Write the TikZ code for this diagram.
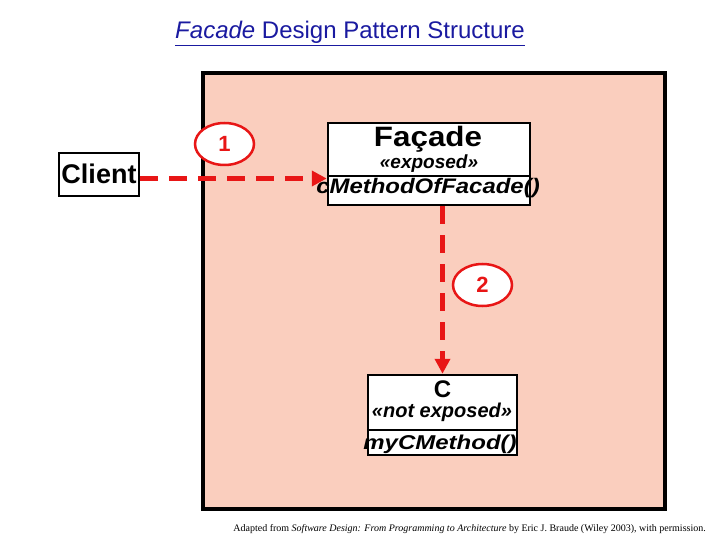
\documentclass[tikz,border=0pt]{standalone}
\usepackage{fontspec}
\setmainfont{Liberation Sans}
\newfontfamily\seriffont{Liberation Serif}
\usetikzlibrary{arrows.meta,shapes.geometric}
\definecolor{salmon}{RGB}{250,206,190}
\definecolor{arrowred}{RGB}{232,22,22}
\definecolor{titleblue}{RGB}{26,26,160}
\tikzset{
  umlbox/.style={draw=black, line width=2.5pt, fill=white, rectangle, inner sep=0pt},
  divider/.style={draw=black, line width=2.5pt},
  msg/.style={draw=arrowred, line width=5pt, dash pattern=on 18pt off 11pt,
    -{Triangle[length=15pt,width=15pt]}},
  numtag/.style={ellipse, draw=arrowred, line width=2.5pt, fill=white,
    minimum width=59pt, minimum height=42pt, inner sep=0pt, text=arrowred,
    font=\bfseries\fontsize{22}{24}\selectfont},
  lbl/.style={anchor=base, inner sep=0pt},
}
\begin{document}
\begin{tikzpicture}[x=1pt,y=-1pt]
\useasboundingbox (0,0) rectangle (720,540);
% frame
\node[draw=black, fill=salmon, line width=4pt, minimum width=462pt, minimum height=436pt, inner sep=0pt] (frame) at (434,291) {};
% title
\node[lbl, text=titleblue, font=\fontsize{24}{28}\selectfont] (title) at (350,39) {\underline{\textit{Facade} Design Pattern Structure}};
% boxes
\node[umlbox, minimum width=80pt, minimum height=43pt] (client) at (99,174.5) {};
\node[umlbox, minimum width=202pt, minimum height=82pt] (facade) at (429,164) {};
\node[umlbox, minimum width=149pt, minimum height=80pt] (cbox) at (442.5,415) {};
\draw[divider] (facade.west |- 0,176) -- (facade.east |- 0,176);
\draw[divider] (cbox.west |- 0,430) -- (cbox.east |- 0,430);
% connectors
\draw[msg] ([yshift=-4pt]client.east) -- ([yshift=-4pt]client.east -| facade.west);
\draw[msg] (cbox.north |- facade.south) -- (cbox.north);
% number tags
\node[numtag] (n1) at (224.5,144) {1};
\node[numtag] (n2) at (482.5,285) {2};
% texts
\node[lbl, font=\bfseries\fontsize{27}{30}\selectfont] (clienttxt) at (99,184) {Client};
\node[lbl, font=\bfseries\fontsize{28}{30}\selectfont] (facadename) at (428,147) {\scalebox{1.12}[1]{Façade}};
\node[lbl, font=\bfseries\itshape\fontsize{19}{22}\selectfont] (facadest) at (429,169) {«exposed»};
\node[lbl, font=\bfseries\itshape\fontsize{21}{24}\selectfont] (facadeop) at (428,194) {\scalebox{1.14}[1]{cMethodOfFacade()}};
\node[lbl, font=\bfseries\fontsize{24}{26}\selectfont] (cname) at (442.5,397) {C};
\node[lbl, font=\bfseries\itshape\fontsize{20}{22}\selectfont] (cst) at (442,417) {«not exposed»};
\node[lbl, font=\bfseries\itshape\fontsize{20}{22}\selectfont] (cop) at (440,449) {\scalebox{1.2}[1]{myCMethod()}};
% credit
\node[anchor=base east, inner sep=0pt, font=\seriffont\fontsize{10}{12}\selectfont] (credit) at (706,531) {Adapted from \textit{Software Design: From Programming to Architecture} by Eric J. Braude (Wiley 2003), with permission.};
\end{tikzpicture}
\end{document}
